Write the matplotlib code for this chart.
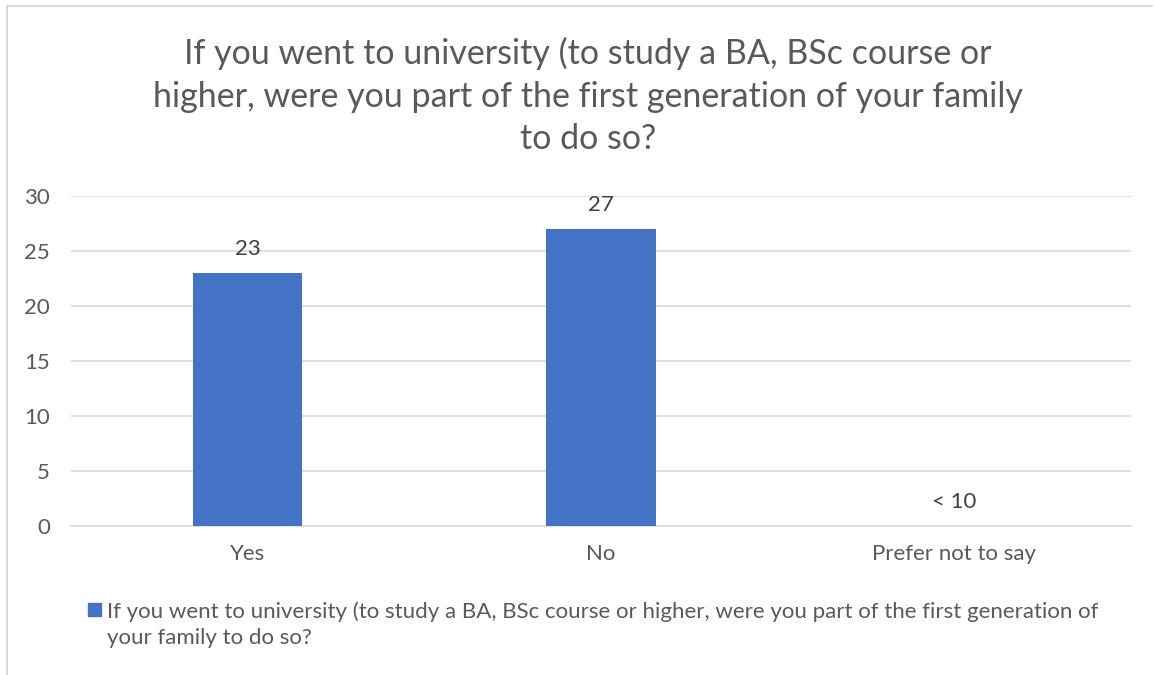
import matplotlib.pyplot as plt
import matplotlib.patches as mpatches
from matplotlib.lines import Line2D

# data
categories = ["Yes", "No", "Prefer not to say"]
values = [23, 27, 0]
value_labels = ["23", "27", "< 10"]
yticks = [0, 5, 10, 15, 20, 25, 30]

title = ("If you went to university (to study a BA, BSc course or\n"
         "higher, were you part of the first generation of your family\n"
         "to do so?")
legend_text = ("If you went to university (to study a BA, BSc course or higher, were you part of the first generation of\n"
               "your family to do so?")

BAR_COLOR = "#4472C4"
TEXT_COLOR = "#595959"
GRID_COLOR = "#D9D9D9"

plt.rcParams["font.family"] = ["Lato", "DejaVu Sans"]

W, H = 1154, 675
fig = plt.figure(figsize=(W / 100, H / 100), dpi=100)

# chart area border (top and left visible in reference)
fig.add_artist(Line2D([7 / W, 1152 / W], [1 - 6 / H, 1 - 6 / H], color=GRID_COLOR, lw=1.5))
fig.add_artist(Line2D([7 / W, 7 / W], [0, 1 - 6 / H], color=GRID_COLOR, lw=1.5))

# plot area
x0, x1 = 71, 1131
ytop, ybot = 196, 526
ax = fig.add_axes([x0 / W, 1 - ybot / H, (x1 - x0) / W, (ybot - ytop) / H])

x = range(len(categories))
bars = ax.bar(x, values, width=0.31, color=BAR_COLOR, zorder=3)
for i, (v, lab) in enumerate(zip(values, value_labels)):
    ax.text(i, v + 1.3, lab, ha="center", va="bottom", fontsize=16, color="#404040")

ax.set_xlim(-0.5, len(categories) - 0.5)
ax.set_ylim(0, 30)
ax.set_yticks(yticks)
ax.set_xticks(list(x))
ax.set_xticklabels(categories)
ax.tick_params(axis="both", length=0, labelsize=16, labelcolor=TEXT_COLOR)
ax.tick_params(axis="y", pad=15)
ax.tick_params(axis="x", pad=13)
ax.grid(axis="y", color=GRID_COLOR, lw=1.2, zorder=0)
for s in ["top", "right", "left"]:
    ax.spines[s].set_visible(False)
ax.spines["bottom"].set_color(GRID_COLOR)
ax.spines["bottom"].set_linewidth(1.2)

fig.text(588 / W, 1 - 96 / H, title, ha="center", va="center", fontsize=24.5,
         color=TEXT_COLOR, linespacing=1.42)

# legend
fig.add_artist(mpatches.Rectangle((88 / W, 1 - 616 / H), 13 / W, 13 / H,
                                  color=BAR_COLOR, transform=fig.transFigure))
fig.text(107 / W, 1 - 625 / H, legend_text, ha="left", va="center", fontsize=16,
         color=TEXT_COLOR, linespacing=1.35)

fig.savefig("out.png", dpi=100)
